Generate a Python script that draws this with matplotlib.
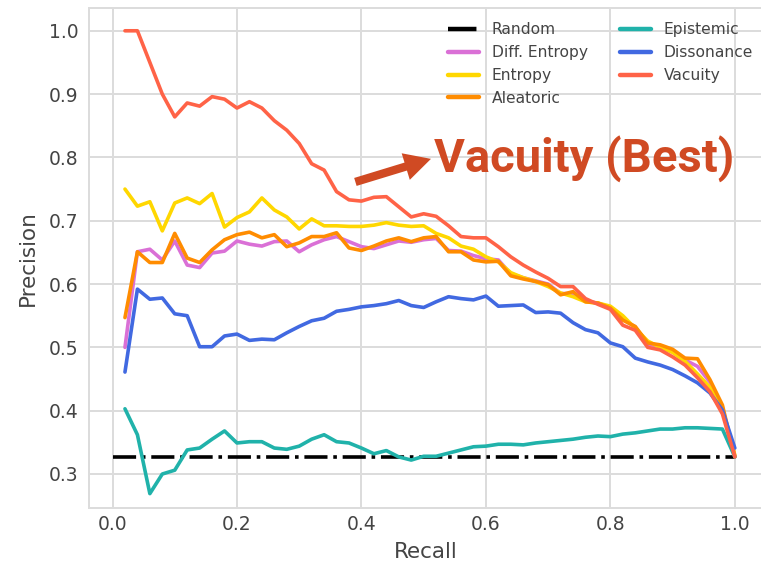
import numpy as np
import matplotlib
matplotlib.use("Agg")
import matplotlib.pyplot as plt
import seaborn as sns
from matplotlib.patches import FancyArrowPatch

# recall thresholds (0.02 steps)
recall = np.linspace(0.02, 1.0, 50)

random_x = [0.0, 1.0]
random_p = [0.327, 0.327]

diff_entropy = [0.500, 0.651, 0.655, 0.638, 0.668, 0.630, 0.626, 0.649, 0.652, 0.668,
                0.663, 0.660, 0.667, 0.668, 0.651, 0.662, 0.670, 0.675, 0.667, 0.659,
                0.656, 0.662, 0.668, 0.666, 0.670, 0.672, 0.653, 0.652, 0.645, 0.640,
                0.638, 0.616, 0.610, 0.605, 0.600, 0.585, 0.585, 0.573, 0.570, 0.563,
                0.545, 0.532, 0.505, 0.502, 0.494, 0.480, 0.470, 0.445, 0.405, 0.328]

entropy = [0.750, 0.723, 0.730, 0.684, 0.728, 0.736, 0.727, 0.743, 0.690, 0.705,
           0.714, 0.736, 0.717, 0.706, 0.687, 0.703, 0.692, 0.692, 0.691, 0.691,
           0.693, 0.697, 0.693, 0.691, 0.692, 0.680, 0.673, 0.660, 0.655, 0.643,
           0.635, 0.618, 0.610, 0.604, 0.596, 0.586, 0.580, 0.572, 0.570, 0.565,
           0.550, 0.530, 0.510, 0.500, 0.492, 0.478, 0.458, 0.437, 0.400, 0.330]

aleatoric = [0.547, 0.651, 0.634, 0.634, 0.680, 0.641, 0.634, 0.654, 0.670, 0.678,
             0.682, 0.673, 0.678, 0.659, 0.665, 0.675, 0.675, 0.681, 0.657, 0.653,
             0.660, 0.668, 0.673, 0.667, 0.673, 0.675, 0.651, 0.651, 0.638, 0.635,
             0.636, 0.613, 0.608, 0.604, 0.599, 0.583, 0.588, 0.572, 0.570, 0.562,
             0.543, 0.533, 0.507, 0.504, 0.497, 0.483, 0.482, 0.449, 0.409, 0.327]

epistemic = [0.403, 0.362, 0.269, 0.300, 0.306, 0.338, 0.341, 0.355, 0.368, 0.349,
             0.351, 0.351, 0.341, 0.339, 0.344, 0.355, 0.362, 0.351, 0.349, 0.341,
             0.332, 0.337, 0.327, 0.322, 0.328, 0.328, 0.333, 0.338, 0.343, 0.344,
             0.347, 0.347, 0.346, 0.349, 0.351, 0.353, 0.355, 0.358, 0.360, 0.359,
             0.363, 0.365, 0.368, 0.371, 0.371, 0.373, 0.373, 0.372, 0.371, 0.327]

dissonance = [0.461, 0.592, 0.576, 0.578, 0.553, 0.550, 0.501, 0.501, 0.518, 0.521,
              0.511, 0.513, 0.512, 0.523, 0.533, 0.542, 0.546, 0.557, 0.560, 0.564,
              0.566, 0.569, 0.574, 0.566, 0.563, 0.572, 0.580, 0.577, 0.575, 0.581,
              0.565, 0.566, 0.567, 0.555, 0.556, 0.554, 0.539, 0.528, 0.523, 0.507,
              0.501, 0.483, 0.477, 0.472, 0.465, 0.455, 0.444, 0.428, 0.401, 0.341]

vacuity = [1.000, 1.000, 0.950, 0.900, 0.864, 0.886, 0.881, 0.896, 0.892, 0.878,
           0.888, 0.878, 0.858, 0.843, 0.822, 0.790, 0.780, 0.746, 0.733, 0.731,
           0.737, 0.738, 0.722, 0.706, 0.711, 0.707, 0.692, 0.675, 0.673, 0.673,
           0.659, 0.643, 0.630, 0.619, 0.609, 0.596, 0.596, 0.577, 0.568, 0.560,
           0.535, 0.527, 0.500, 0.496, 0.485, 0.472, 0.452, 0.430, 0.395, 0.327]

sns.set_style("whitegrid", {"grid.color": "#dcdcdc", "axes.edgecolor": "#dcdcdc"})
plt.rcParams['font.family'] = ['DejaVu Sans']

fig = plt.figure(figsize=(7.61, 5.71), dpi=100)
ax = fig.add_axes([0.1176, 0.110, 0.884, 0.876])

lw = 2.6
ax.plot(random_x, random_p, color="black", ls="-.", lw=lw, label="Random")
ax.plot(recall, diff_entropy, color="orchid", lw=lw, label="Diff. Entropy")
ax.plot(recall, entropy, color="gold", lw=lw, label="Entropy")
ax.plot(recall, aleatoric, color="darkorange", lw=lw, label="Aleatoric")
ax.plot(recall, epistemic, color="lightseagreen", lw=lw, label="Epistemic")
ax.plot(recall, dissonance, color="royalblue", lw=lw, label="Dissonance")
ax.plot(recall, vacuity, color="tomato", lw=lw, label="Vacuity")

ax.set_xlim(-0.037, 1.044)
ax.set_ylim(0.246, 1.036)
ax.set_xticks([0.0, 0.2, 0.4, 0.6, 0.8, 1.0])
ax.set_yticks([0.3, 0.4, 0.5, 0.6, 0.7, 0.8, 0.9, 1.0])
ax.grid(True, lw=1.4)
for s in ax.spines.values():
    s.set_linewidth(1.4)

txt = "#444444"
ax.tick_params(axis="x", labelsize=13.5, colors=txt, pad=5, length=0)
ax.tick_params(axis="y", labelsize=13.5, colors=txt, pad=8, length=0)
ax.set_xlabel("Recall", fontsize=15.5, color=txt, labelpad=6)
ax.set_ylabel("Precision", fontsize=15.5, color=txt, labelpad=8)

leg = ax.legend(ncol=2, loc="upper right", bbox_to_anchor=(1.0074, 0.999),
                frameon=False, fontsize=11.2, labelspacing=0.5,
                columnspacing=2.1, handlelength=2.0, handletextpad=0.8)
for t in leg.get_texts():
    t.set_color(txt)
for h in leg.get_lines():
    h.set_linewidth(3.2)

# callout for the best method
callout = "#d04a23"
arrow = FancyArrowPatch((0.386, 0.760), (0.516, 0.799),
                        arrowstyle="simple,head_length=0.95,head_width=1.0,tail_width=0.3",
                        mutation_scale=20, color=callout, lw=0, zorder=5)
ax.add_patch(arrow)
ax.text(0.516, 0.777, "Vacuity (Best)", color=callout, fontsize=34,
        fontweight="bold", family="Roboto", ha="left", va="baseline", zorder=5)

fig.savefig("out.png", dpi=100)
